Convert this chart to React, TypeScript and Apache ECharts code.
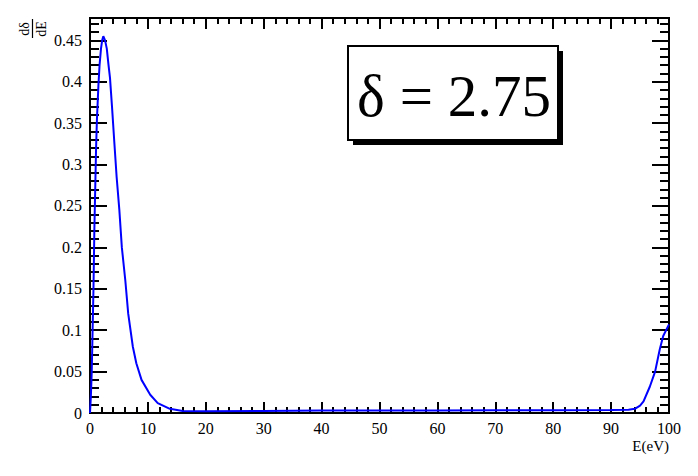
import React, { useEffect, useRef } from "react";
import * as echarts from "echarts";

const energyEv = [
  0, 0.15, 0.3, 0.45, 0.6, 0.75, 0.9, 1.05, 1.2, 1.45, 1.65, 1.9, 2.1, 2.3, 2.6, 2.9, 3.2, 3.45,
  3.8, 4.2, 4.6, 5.07, 5.5, 6.1, 6.6, 7.4, 8.0, 8.9, 10.4, 11.7, 13.8, 16, 20, 30, 40, 50, 60,
  70, 80, 90, 93, 94.1, 95, 95.6, 96.7, 97.6, 98.4, 99, 100,
];
const dDeltaDE = [
  0, 0.02, 0.05, 0.1, 0.15, 0.22, 0.27, 0.32, 0.355, 0.395, 0.42, 0.44, 0.45, 0.455, 0.45, 0.44,
  0.42, 0.405, 0.37, 0.327, 0.285, 0.245, 0.2, 0.16, 0.12, 0.08, 0.06, 0.04, 0.022, 0.012, 0.005,
  0.0025, 0.002, 0.0025, 0.003, 0.003, 0.003, 0.0032, 0.0033, 0.0035, 0.004, 0.005, 0.009, 0.014,
  0.032, 0.05, 0.0766, 0.093, 0.107,
];
const xMin = 0;
const xMax = 100;
const yMin = 0;
const yMax = 0.477;
const xMajor = 10;
const xMinor = 2;
const yMajor = 0.05;
const yMinor = 0.01;
const annotation = "δ = 2.75";
const xTitle = "E(eV)";
const yNum = "dδ";
const yDen = "dE";

const SERIF = "Liberation Serif";

export default function App() {
  const ref = useRef<HTMLDivElement>(null);
  useEffect(() => {
    document.body.style.margin = "0";
    const chart = echarts.init(ref.current!, null, { renderer: "svg" });
    const line = { show: true, onZero: false, lineStyle: { color: "#000", width: 2 } };
    const yLabelFmt = (v: number) => {
      const r = Math.round(v / yMajor);
      if (Math.abs(v - r * yMajor) > 1e-6) return "";
      return String(parseFloat(v.toFixed(2)));
    };
    const mkX = (pos: string, interval: number, len: number, labels: boolean) => ({
      type: "value",
      position: pos,
      min: xMin,
      max: xMax,
      interval,
      axisLine: line,
      axisTick: { show: true, inside: true, length: len, lineStyle: { color: "#000", width: 2 } },
      axisLabel: labels
        ? { show: true, color: "#000", fontFamily: SERIF, fontSize: 16, margin: 7 }
        : { show: false },
      splitLine: { show: false },
    });
    const mkY = (pos: string, interval: number, len: number, labels: boolean) => ({
      type: "value",
      position: pos,
      min: yMin,
      max: yMax,
      interval,
      axisLine: line,
      axisTick: { show: true, inside: true, length: len, lineStyle: { color: "#000", width: 2 } },
      axisLabel: labels
        ? { show: true, color: "#000", fontFamily: SERIF, fontSize: 16, margin: 8, formatter: yLabelFmt, showMaxLabel: false }
        : { show: false },
      splitLine: { show: false },
    });
    chart.setOption({
      animation: false,
      backgroundColor: "#fff",
      grid: { left: 90, right: 29, top: 18, bottom: 63, containLabel: false },
      xAxis: [
        mkX("bottom", xMajor, 11, true),
        mkX("bottom", xMinor, 6, false),
        mkX("top", xMajor, 11, false),
        mkX("top", xMinor, 6, false),
      ],
      yAxis: [
        mkY("left", yMajor, 17, true),
        mkY("left", yMinor, 9, false),
        mkY("right", yMajor, 17, false),
        mkY("right", yMinor, 9, false),
      ],
      series: [
        {
          type: "line",
          xAxisIndex: 0,
          yAxisIndex: 0,
          data: energyEv.map((x, i) => [x, dDeltaDE[i]]),
          showSymbol: false,
          symbol: "none",
          clip: true,
          lineStyle: { color: "#0000ff", width: 2 },
        },
      ],
      graphic: [
        { type: "rect", shape: { x: 353, y: 51, width: 210, height: 94 }, style: { fill: "#000" } },
        {
          type: "rect",
          shape: { x: 348, y: 46, width: 210, height: 94 },
          style: { fill: "#fff", stroke: "#000", lineWidth: 2 },
        },
        {
          type: "text",
          x: 454,
          y: 96,
          style: { text: annotation, fontSize: 59, fontFamily: SERIF, fill: "#000", align: "center", verticalAlign: "middle" },
        },
        {
          type: "text",
          x: 669,
          y: 453,
          style: { text: xTitle, fontSize: 15, fontFamily: SERIF, fill: "#000", align: "right", verticalAlign: "bottom" },
        },
        {
          type: "text",
          x: 24,
          y: 29,
          rotation: Math.PI / 2,
          style: { text: yNum, fontSize: 14, fontFamily: SERIF, fill: "#000", align: "center", verticalAlign: "middle" },
        },
        {
          type: "line",
          shape: { x1: 32.5, y1: 19, x2: 32.5, y2: 38 },
          style: { stroke: "#000", lineWidth: 1.2 },
        },
        {
          type: "text",
          x: 41,
          y: 29,
          rotation: Math.PI / 2,
          style: { text: yDen, fontSize: 14, fontFamily: SERIF, fill: "#000", align: "center", verticalAlign: "middle" },
        },
      ],
    });
    return () => chart.dispose();
  }, []);
  return <div ref={ref} style={{ width: 698, height: 476 }} />;
}
